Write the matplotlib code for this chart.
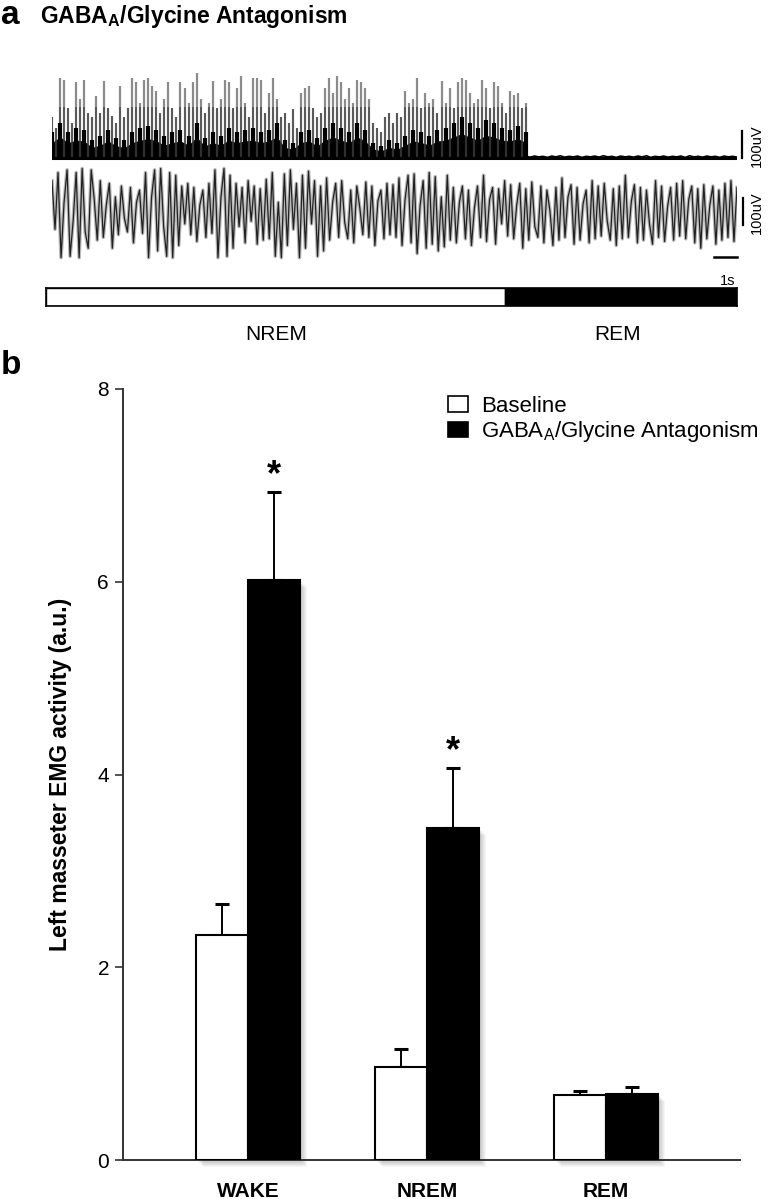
import matplotlib
matplotlib.use('Agg')
import matplotlib.pyplot as plt
import numpy as np
from matplotlib.patches import Rectangle, Patch

plt.rcParams['font.family'] = ['Liberation Sans', 'DejaVu Sans']
plt.rcParams['mathtext.fontset'] = 'custom'
plt.rcParams['mathtext.rm'] = 'Liberation Sans'
plt.rcParams['mathtext.bf'] = 'Liberation Sans:bold'
plt.rcParams['mathtext.it'] = 'Liberation Sans:italic'

# ---------------- data ----------------
# Panel a: EMG traces (uV)
burst_end_s = 20.6
trace_len_s = 29.78
spikes1 = [150, 110, 295, 290, 185, 130, 280, 220, 290, 165,
           150, 230, 165, 285, 185, 155, 130, 265, 150, 185,
           295, 280, 205, 290, 295, 265, 250, 165, 220, 280,
           185, 150, 280, 260, 205, 280, 315, 220, 165, 205,
           285, 185, 220, 290, 280, 185, 260, 305, 205, 150,
           295, 295, 290, 165, 240, 295, 220, 150, 165, 130,
           180, 110, 240, 260, 265, 185, 150, 165, 260, 295,
           240, 305, 280, 220, 260, 205, 290, 280, 260, 220,
           130, 110, 95, 150, 165, 130, 165, 150, 250, 205,
           220, 295, 185, 240, 205, 220, 165, 285, 205, 260,
           185, 280, 295, 290, 240, 205, 220, 290, 260, 185,
           280, 265, 205, 165, 250, 235, 240, 185, 205]
body1 = [95, 130, 95, 110, 105, 65, 80, 105, 75, 65,
         95, 110, 120, 105, 80, 95, 105, 80, 130, 75,
         95, 80, 110, 95, 105, 110, 95, 105, 130, 65,
         55, 95, 105, 75, 110, 130, 110, 95, 130, 105,
         55, 45, 65, 55, 80, 105, 95, 80, 105, 110,
         130, 150, 130, 110, 140, 130, 110, 105, 120, 95]
rem1 = [6, 3, 7, 4, 6, 2, 7, 4, 8, 3, 6, 4, 7, 2, 6, 4, 7, 3, 8, 4,
        6, 2, 7, 4, 6, 3, 7, 4, 8, 2, 6, 4, 7, 3, 6, 4, 7, 2, 8, 4,
        6, 3, 7, 4, 6, 2, 7, 4, 6, 3]
trace2 = [120, -60, 150, -165, 40, 160, -160, -30, 150, -165, 165, -70, -130, 160, 50, -100,
          120, -90, 30, 110, -130, 60, -80, 100, -20, -70, 95, -110, 40, 85, -75,
          150, -165, 60, 160, -140, 165, -50, -160, 150, -165,
          140, -120, 100, -40, 110, -80, 95, -105, 30, 85, -90, 110,
          -75, 160, -165, 60, 165, -160, 140,
          -130, 110, -50, 95, -110, 120, -30, 100, -115, 90, -100, 125,
          -95, 150, -160, 40, -165, 145, -120, 160, -60, 110, -165, 140, -130, 155, -40, 120, -160, 100, -140,
          130, -100, 40, 110, -90, 120, -35, -95, 85, -110, 100, 20, -80, 115, -90, 100, -120, 45, 85, -95,
          110, -80, 105,
          -90, 130, -120, 50, 140, -110, 145, -150, 30, 120, -130, 150, -115, 135, -140, 60, -125,
          140, -100, 95, -110, 40, 100, -95, 85, -120, 20,
          100, -90, 140, -105, 50, 95, -115, 90, -40, 120,
          -85, 105, -95, 30, 110, -130, 90, -100, 115, -50,
          -90, 100, -110, 85, 10, -120, 95, -100, 130, -90,
          60, 105, -115, 95, -100, 35, 85, -110, 120, -95,
          100, -85, 110, -30, -100, 90, -120, 100, -95, 140,
          -90, 45, 105, -110, 95, -100, 85, -40, -115, 120,
          -90, 100, -105, 25, 95, -100, 110, -85, 120, -95,
          50, 100, -110, 90, -130, 105, -95, 30, 100, -115,
          85, -100, 110, -90, 120, -105, 95]
stages = ['NREM', 'REM']
stage_end_s = [19.96, 30.04]

# Panel b: bar chart
categories = ['WAKE', 'NREM', 'REM']
baseline_mean = [2.33, 0.97, 0.67]
baseline_sem = [0.33, 0.18, 0.05]
antag_mean = [6.02, 3.45, 0.68]
antag_sem = [0.91, 0.62, 0.08]
significant = [True, True, False]
yticks = [0, 2, 4, 6, 8]

# ---------------- figure ----------------
W, H = 772, 1199
fig = plt.figure(figsize=(W / 100, H / 100), dpi=100)


def rect(x0, y0, x1, y1):
    return [x0 / W, 1 - y1 / H, (x1 - x0) / W, (y1 - y0) / H]


# Panel a labels
fig.text(1 / W, 1 - 15 / H, 'a', fontsize=24, fontweight='bold', va='center', ha='left')
fig.text(40 / W, 1 - 17 / H, r'GABA$_\mathbf{A}$/Glycine Antagonism',
         fontsize=16.5, fontweight='bold', va='center', ha='left')

# Trace 1
ax1 = fig.add_axes(rect(52, 70, 737, 162))
ax1.set_xlim(0, trace_len_s)
ax1.set_ylim(-15, 326)
ax1.axis('off')
t_sp = np.linspace(0, burst_end_s, len(spikes1))
ax1.vlines(t_sp, 0, spikes1, color='#5a5a5a', lw=1.6, alpha=0.7)
ax1.vlines(t_sp, 0, np.minimum(spikes1, 190), color='#202020', lw=1.1, alpha=0.6)
t_bd = np.linspace(0, burst_end_s, len(body1))
ax1.vlines(t_bd, 0, body1, color='black', lw=3.0)
ax1.fill_between(t_bd, 0, np.array(body1) * 0.6, color='black', lw=0)
t_rem = np.linspace(burst_end_s, trace_len_s, len(rem1))
ax1.plot(t_rem, rem1, color='black', lw=1.2)
ax1.plot([0, trace_len_s], [0, 0], color='black', lw=2.2)
ax1.plot([30.0, 30.0], [0, 100], color='black', lw=1.6, clip_on=False)
ax1.text(30.65, 45, '100uV', rotation=90, va='center', ha='center', fontsize=10.5, clip_on=False)

# Trace 2
ax2 = fig.add_axes(rect(52, 165, 737, 262))
ax2.set_xlim(0, trace_len_s)
ax2.set_ylim(-181, 178)
ax2.axis('off')
t2 = np.linspace(0, trace_len_s, len(trace2))
ax2.plot(t2, trace2, color='#808080', lw=2.6, alpha=0.55)
ax2.plot(t2, trace2, color='#111111', lw=0.9, alpha=0.9)
ax2.plot([30.04, 30.04], [-45, 55], color='black', lw=1.6, clip_on=False)
ax2.text(30.65, 0, '100uV', rotation=90, va='center', ha='center', fontsize=10.5, clip_on=False)
ax2.plot([trace_len_s - 1.0, trace_len_s], [-163, -163], color='black', lw=1.8, clip_on=False)
fig.text(728 / W, 1 - 281 / H, '1s', fontsize=10.5, ha='center', va='center')

# Hypnogram
axh = fig.add_axes(rect(46, 288, 737, 306))
axh.set_xlim(0, stage_end_s[-1])
axh.set_ylim(0, 1)
start = 0
for st, end in zip(stages, stage_end_s):
    axh.add_patch(Rectangle((start, 0), end - start, 1,
                            facecolor='white' if st == 'NREM' else 'black',
                            edgecolor='black', lw=1.0))
    start = end
axh.set_xticks([])
axh.set_yticks([])
for s in axh.spines.values():
    s.set_linewidth(1.2)
fig.text(276 / W, 1 - 335 / H, 'NREM', fontsize=15, ha='center', va='center')
fig.text(618 / W, 1 - 335 / H, 'REM', fontsize=15, ha='center', va='center')

# Panel b
fig.text(1 / W, 1 - 366 / H, 'b', fontsize=24, fontweight='bold', va='center', ha='left')
axb = fig.add_axes(rect(123, 389, 740, 1160))
x = np.arange(len(categories))
w = 0.29
axb.set_xlim(-0.698, 2.749)
axb.set_ylim(0, 8)

dx = 1 / 179.0
dy = 8 / 771.0
for i in range(len(categories)):
    for s in range(1, 8):
        for xx, hh in ((x[i] - w, baseline_mean[i]), (x[i], antag_mean[i])):
            axb.add_patch(Rectangle((xx + s * dx, -s * dy), w, hh,
                                    facecolor='black', alpha=0.035, lw=0,
                                    clip_on=False, zorder=1))

axb.bar(x - w / 2, baseline_mean, w, color='white', edgecolor='black', lw=1.5, zorder=3)
axb.bar(x + w / 2, antag_mean, w, color='black', edgecolor='black', lw=1.5, zorder=3)
axb.errorbar(x - w / 2, baseline_mean, yerr=[np.zeros(3), baseline_sem], fmt='none',
             ecolor='black', elinewidth=1.4, capsize=5, capthick=2.2, zorder=2)
axb.errorbar(x + w / 2, antag_mean, yerr=[np.zeros(3), antag_sem], fmt='none',
             ecolor='black', elinewidth=1.4, capsize=5, capthick=2.2, zorder=2)
for i in range(len(categories)):
    if significant[i]:
        axb.text(x[i] + w / 2, antag_mean[i] + antag_sem[i] + 0.17, '*', fontsize=26,
                 fontweight='bold', ha='center', va='center')

for side in ('top', 'right'):
    axb.spines[side].set_visible(False)
for side in ('left', 'bottom'):
    axb.spines[side].set_linewidth(1.4)
    axb.spines[side].set_color('#333333')
axb.set_yticks(yticks)
axb.set_yticklabels([str(v) for v in yticks])
axb.tick_params(axis='y', direction='out', length=6, width=1.2, labelsize=15, colors='#333333',
                labelcolor='black', pad=4)
axb.set_xticks(x)
axb.set_xticklabels(categories, fontweight='bold', fontsize=15)
axb.tick_params(axis='x', length=0, pad=16)
axb.set_ylabel('Left masseter EMG activity (a.u.)', fontsize=16.5, fontweight='bold')
axb.yaxis.set_label_coords((72 - 123) / 617, 0.5)

axb.legend(handles=[Patch(facecolor='white', edgecolor='black', lw=1.2),
                    Patch(facecolor='black', edgecolor='black', lw=1.2)],
           labels=['Baseline', r'GABA$_\mathrm{A}$/Glycine Antagonism'],
           loc='upper left', bbox_to_anchor=(448 / W, 1 - 396 / H), bbox_transform=fig.transFigure,
           frameon=False, fontsize=16, handlelength=0.9, handleheight=0.72,
           handletextpad=0.6, labelspacing=0.1, borderaxespad=0, borderpad=0)

fig.savefig('out.png', dpi=100)
